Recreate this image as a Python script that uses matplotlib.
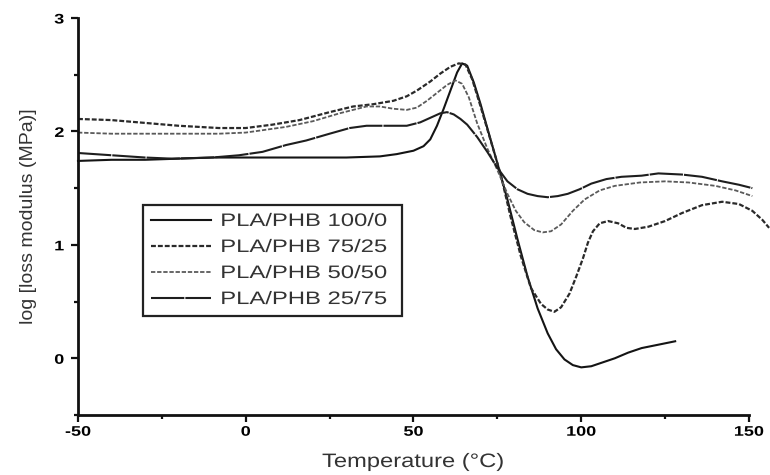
import matplotlib

matplotlib.use("Agg")
import matplotlib.pyplot as plt
from matplotlib import patheffects
from matplotlib.ticker import MultipleLocator
from matplotlib.transforms import Affine2D

plt.rcParams["font.family"] = ["Liberation Sans", "DejaVu Sans"]
plt.rcParams["axes.unicode_minus"] = False

# Values: temperature (°C) vs log loss modulus.
temp_100_0 = [-50, -40, -30, -20, -10, 0, 10, 20, 30, 40, 45, 50, 53, 55, 57, 59, 61, 63,
              64.5, 66, 68, 70, 72, 75, 78, 81, 84, 87, 90, 92.5, 95, 97.5, 100, 103, 106,
              110, 114, 118, 123, 128]
loss_100_0 = [1.74, 1.75, 1.75, 1.76, 1.77, 1.77, 1.77, 1.77, 1.77, 1.78, 1.80, 1.83, 1.87,
              1.93, 2.05, 2.20, 2.36, 2.52, 2.60, 2.58, 2.43, 2.24, 2.03, 1.72, 1.40, 1.05,
              0.72, 0.44, 0.22, 0.08, -0.01, -0.06, -0.08, -0.07, -0.04, 0.00, 0.05, 0.09,
              0.12, 0.15]

temp_75_25 = [-50, -40, -32, -20, -8, 0, 8, 16, 25, 32, 38, 44, 48, 51, 55, 58, 61, 63.5,
              65.5, 67.5, 70, 73, 76, 79, 82, 85, 88, 90, 92, 94, 96.5, 98.5, 100.5, 102,
              103.5, 105.5, 108, 111, 113.5, 116, 120, 125, 130, 136, 142, 147, 151, 154, 156]
loss_75_25 = [2.11, 2.10, 2.08, 2.05, 2.03, 2.03, 2.06, 2.10, 2.17, 2.22, 2.24, 2.27, 2.31,
              2.36, 2.44, 2.51, 2.57, 2.60, 2.59, 2.46, 2.22, 1.92, 1.62, 1.24, 0.90, 0.62,
              0.48, 0.43, 0.41, 0.45, 0.57, 0.72, 0.88, 1.02, 1.12, 1.19, 1.21, 1.19, 1.15,
              1.14, 1.16, 1.21, 1.28, 1.35, 1.38, 1.36, 1.30, 1.22, 1.15]

temp_50_50 = [-50, -40, -30, -20, -8, 0, 12, 20, 28, 36, 40, 44, 48, 51, 54, 57, 60, 62.5,
              64.5, 66.5, 69, 72, 75, 78, 80.5, 83, 86, 88.5, 91, 94, 97.5, 101, 105.5, 110,
              117.5, 125, 132, 140, 146, 151]
loss_50_50 = [1.99, 1.98, 1.98, 1.98, 1.98, 1.99, 2.04, 2.09, 2.16, 2.22, 2.22, 2.20, 2.19,
              2.21, 2.27, 2.34, 2.41, 2.45, 2.42, 2.30, 2.07, 1.85, 1.66, 1.45, 1.30, 1.20,
              1.13, 1.11, 1.12, 1.18, 1.30, 1.40, 1.48, 1.52, 1.55, 1.56, 1.55, 1.52, 1.48,
              1.43]

temp_25_75 = [-50, -40, -30, -22, -10, -2, 5, 12, 18, 25, 31, 36, 42, 48, 52, 55, 58, 60, 62,
              64, 66, 69, 72, 75, 78, 81, 84, 87, 90, 93, 96, 99.5, 103, 107.5, 112, 118, 123,
              130, 136, 142, 147, 151]
loss_25_75 = [1.81, 1.79, 1.77, 1.76, 1.77, 1.79, 1.82, 1.88, 1.92, 1.98, 2.03, 2.05, 2.05,
              2.05, 2.08, 2.12, 2.16, 2.17, 2.15, 2.11, 2.06, 1.95, 1.82, 1.68, 1.56, 1.49,
              1.45, 1.43, 1.42, 1.43, 1.45, 1.49, 1.54, 1.58, 1.60, 1.61, 1.63, 1.62, 1.60,
              1.56, 1.53, 1.50]

labels = ["PLA/PHB 100/0", "PLA/PHB 75/25", "PLA/PHB 50/50", "PLA/PHB 25/75"]
x_ticks = [-50, 0, 50, 100, 150]
y_ticks = [0, 1, 2, 3]


class StretchX(patheffects.AbstractPathEffect):
    """Widen glyphs sideways: the scanned figure was resampled wider than tall."""

    def __init__(self, factor, anchor=0.5):
        super().__init__()
        self.factor = factor
        self.anchor = anchor

    def draw_path(self, renderer, gc, tpath, affine, rgbFace=None):
        ext = tpath.get_extents()
        x0 = ext.x0 + self.anchor * ext.width
        stretch = Affine2D().translate(-x0, 0).scale(self.factor, 1).translate(x0, 0)
        renderer.draw_path(gc, tpath, stretch + affine, rgbFace)


fig = plt.figure(figsize=(7.7, 4.75), dpi=100)
ax = fig.add_axes([0.1013, 0.1263, 0.8714, 0.8358])

series = [
    (temp_100_0, loss_100_0, dict(color="#141414", lw=1.5, ls="-")),
    (temp_75_25, loss_75_25, dict(color="#2a2a2a", lw=1.6, dashes=(2.2, 0.9))),
    (temp_50_50, loss_50_50, dict(color="#5a5a5a", lw=1.3, dashes=(2.4, 1.0))),
    (temp_25_75, loss_25_75, dict(color="#1e1e1e", lw=1.5, dashes=(16, 0.5))),
]
for (t, g, style), label in zip(series, labels):
    ax.plot(t, g, label=label, clip_on=False, solid_joinstyle="round",
            dash_joinstyle="round", **style)

ax.set_xlim(-50, 150)
ax.set_ylim(-0.5, 3)
ax.set_xticks(x_ticks)
ax.set_yticks(y_ticks)
ax.xaxis.set_minor_locator(MultipleLocator(25))
ax.yaxis.set_minor_locator(MultipleLocator(0.5))
ax.tick_params(which="both", direction="out", width=1.6, color="#111111")
ax.tick_params(which="major", length=5)
ax.tick_params(which="minor", length=3)
ax.tick_params(axis="x", pad=2)
ax.tick_params(axis="y", pad=5)

for side in ("top", "right"):
    ax.spines[side].set_visible(False)
for side in ("left", "bottom"):
    ax.spines[side].set_linewidth(2.0)
    ax.spines[side].set_color("#111111")

for lab in ax.get_xticklabels():
    lab.set_fontsize(10)
    lab.set_fontweight("bold")
    lab.set_path_effects([StretchX(1.3, 0.5)])
for lab in ax.get_yticklabels():
    lab.set_fontsize(10)
    lab.set_fontweight("bold")
    lab.set_path_effects([StretchX(1.3, 1.0)])

xlab = ax.set_xlabel("Temperature (°C)", fontsize=14, color="#333333", labelpad=11)
xlab.set_path_effects([StretchX(1.22, 0.5)])
ax.set_ylabel("log [loss modulus (MPa)]", fontsize=14, color="#333333", labelpad=14)

leg = ax.legend(loc="lower left", bbox_to_anchor=(0.097, 0.249, 0.386, 0.287),
                mode="expand", borderaxespad=0, fontsize=13, handlelength=3.3,
                handletextpad=0.55, labelspacing=0.5, borderpad=0.45,
                fancybox=False, framealpha=1, edgecolor="#222222")
leg.get_frame().set_linewidth(1.6)
for txt in leg.get_texts():
    txt.set_color("#333333")
    txt.set_path_effects([StretchX(1.32, 0.0)])

fig.savefig("out.png", dpi=100)
